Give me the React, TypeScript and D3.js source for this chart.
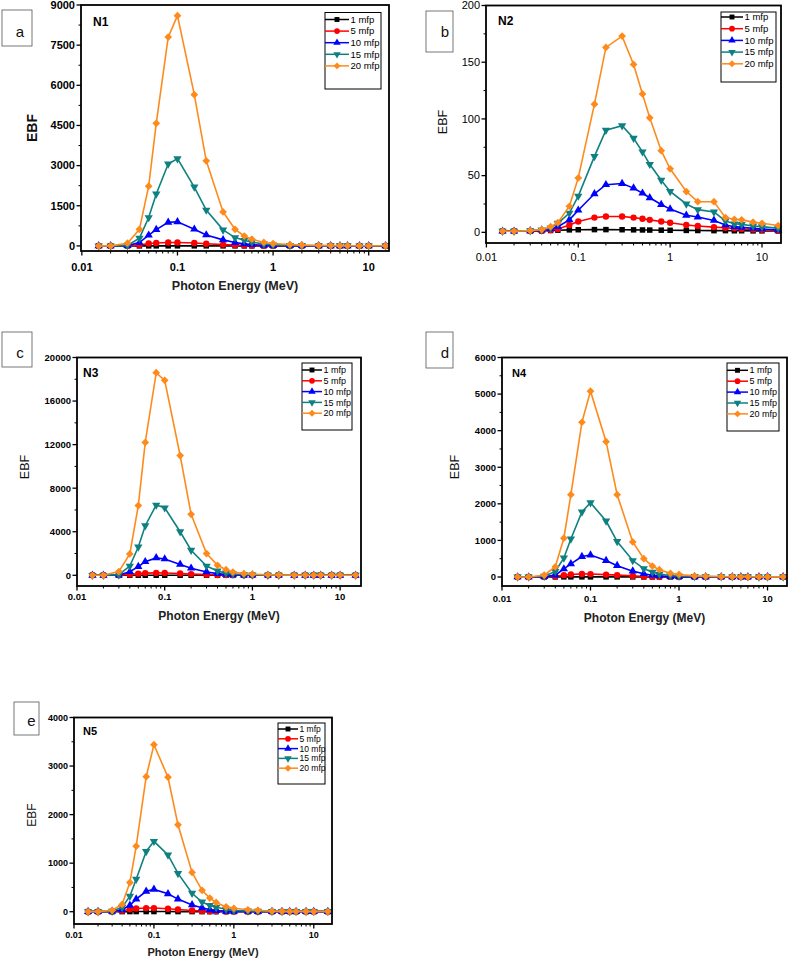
import React from 'react';
import * as d3 from 'd3';

// photon energies (MeV), shared by every panel
const energies = [0.015, 0.02, 0.03, 0.04, 0.05, 0.06, 0.08, 0.1, 0.15, 0.2, 0.3, 0.4, 0.5, 0.6, 0.8, 1, 1.5, 2, 3, 4, 5, 6, 8, 10, 15];

const seriesNames = ['1 mfp', '5 mfp', '10 mfp', '15 mfp', '20 mfp'];
const seriesColors = ['#000000', '#ff0000', '#0000ff', '#0f8080', '#ff8a1c'];
const seriesShapes = ['square', 'circle', 'up', 'down', 'diamond'];

const xTickValues = [0.01, 0.1, 1, 10];
const xTickLabels = ['0.01', '0.1', '1', '10'];

// N1
const n1Mfp1 = [1, 1, 1.2, 1.5, 2, 2.3, 2.6, 2.7, 2.6, 2.4, 2.1, 1.9, 1.8, 1.7, 1.6, 1.5, 1.4, 1.4, 1.3, 1.3, 1.3, 1.2, 1.2, 1.2, 1.2];
const n1Mfp5 = [1, 1, 5, 30, 90, 110, 130, 130, 110, 80, 50, 30, 20, 15, 10, 8, 6, 5, 4, 4, 3, 3, 3, 3, 2];
const n1Mfp10 = [1, 1, 10, 125, 400, 610, 880, 900, 625, 410, 225, 125, 75, 50, 25, 15, 10, 8, 6, 5, 5, 4, 4, 4, 3];
const n1Mfp15 = [1, 1, 20, 290, 1060, 1940, 3060, 3260, 2200, 1340, 600, 310, 210, 140, 75, 40, 20, 15, 10, 8, 7, 6, 5, 5, 4];
const n1Mfp20 = [1, 1, 100, 620, 2230, 4580, 7800, 8600, 5650, 3180, 1270, 620, 370, 250, 130, 90, 50, 30, 15, 10, 8, 7, 6, 5, 5];

// N2
const n2Mfp1 = [1.0, 1.0, 1.1, 1.3, 1.6, 1.9, 2.2, 2.3, 2.4, 2.4, 2.3, 2.2, 2.1, 2.0, 1.9, 1.8, 1.7, 1.6, 1.5, 1.5, 1.4, 1.4, 1.3, 1.3, 1.2];
const n2Mfp5 = [1.0, 1.0, 1.2, 1.5, 2.0, 3.0, 6.5, 9.5, 13, 14, 14, 13, 12, 11, 9.5, 8.5, 6.5, 5.6, 4.6, 4.0, 3.5, 3.0, 2.5, 2.2, 1.5];
const n2Mfp10 = [1.0, 1.0, 1.3, 2.0, 3.0, 5.0, 11, 19.5, 34, 42, 43, 39, 34.5, 30.5, 24.5, 20.5, 15, 13.5, 10.5, 6.5, 5, 4.5, 3.5, 3, 2];
const n2Mfp15 = [1.0, 1.0, 1.4, 2.2, 4.0, 8.0, 17, 32, 67, 90, 94, 83, 71, 60, 46, 36, 25, 20, 18, 10, 7.5, 7, 5.6, 5, 3.5];
const n2Mfp20 = [1.0, 1.0, 1.5, 2.5, 5.0, 8.5, 23, 48, 113, 163, 173, 148, 122, 101, 72, 56, 36, 27, 27, 13, 11.5, 11, 9, 8, 6];

// N3
const n3Mfp1 = [1, 1, 2, 3, 4, 5, 5, 5, 4, 4, 3, 3, 2, 2, 2, 2, 2, 1, 1, 1, 1, 1, 1, 1, 1];
const n3Mfp5 = [1, 1, 10, 80, 150, 200, 220, 210, 160, 110, 60, 30, 20, 15, 10, 8, 6, 5, 4, 3, 3, 3, 2, 2, 2];
const n3Mfp10 = [1, 1, 20, 330, 800, 1250, 1600, 1500, 1000, 650, 310, 150, 80, 50, 20, 15, 10, 8, 6, 5, 4, 4, 3, 3, 3];
const n3Mfp15 = [1, 1, 60, 850, 2600, 4550, 6450, 6200, 4000, 2300, 850, 400, 200, 120, 60, 30, 20, 15, 10, 8, 7, 6, 5, 5, 4];
const n3Mfp20 = [1, 1, 340, 1960, 6400, 12200, 18600, 17900, 11000, 5600, 2000, 920, 520, 300, 150, 100, 50, 30, 15, 10, 8, 7, 6, 5, 5];

// N4
const n4Mfp1 = [1, 1, 1.5, 2, 3, 3, 3.5, 3.5, 3, 3, 2.5, 2, 2, 2, 1.5, 1.5, 1.5, 1.3, 1.3, 1.2, 1.2, 1.2, 1.2, 1.2, 1.1];
const n4Mfp5 = [1, 1, 5, 20, 50, 70, 85, 80, 65, 50, 30, 15, 10, 8, 6, 5, 4, 3, 3, 3, 2, 2, 2, 2, 2];
const n4Mfp10 = [1, 1, 10, 50, 220, 360, 560, 600, 450, 310, 160, 90, 50, 30, 10, 8, 6, 5, 4, 4, 3, 3, 3, 3, 3];
const n4Mfp15 = [1, 1, 20, 150, 520, 1040, 1780, 2030, 1530, 970, 450, 230, 130, 80, 40, 20, 15, 10, 8, 6, 5, 5, 4, 4, 4];
const n4Mfp20 = [1, 1, 50, 280, 1060, 2250, 4230, 5080, 3700, 2250, 960, 500, 300, 200, 100, 70, 30, 20, 10, 8, 6, 5, 5, 4, 4];

// N5
const n5Mfp1 = [1, 1, 1.5, 2, 2.5, 3, 3, 3, 3, 2.5, 2.2, 2, 1.8, 1.7, 1.6, 1.5, 1.4, 1.3, 1.3, 1.2, 1.2, 1.2, 1.1, 1.1, 1.1];
const n5Mfp5 = [1, 1, 5, 20, 50, 65, 75, 75, 60, 45, 25, 15, 10, 8, 5, 4, 3, 3, 2, 2, 2, 2, 2, 2, 2];
const n5Mfp10 = [1, 1, 10, 40, 130, 260, 420, 460, 370, 260, 140, 80, 40, 25, 10, 8, 6, 5, 4, 4, 3, 3, 3, 3, 3];
const n5Mfp15 = [1, 1, 10, 90, 320, 670, 1240, 1450, 1170, 790, 380, 200, 130, 90, 50, 25, 15, 10, 8, 6, 5, 5, 4, 4, 4];
const n5Mfp20 = [1, 1, 30, 150, 600, 1350, 2780, 3440, 2770, 1790, 810, 440, 280, 190, 100, 70, 40, 30, 10, 8, 6, 5, 5, 4, 4];

const FONT = "'Liberation Sans', Arial, sans-serif";

interface PanelCfg {
  letter: string;
  letterBox: [number, number, number, number];
  letterPos: [number, number];
  name: string;
  namePos: [number, number];
  nameSize: number;
  series: number[][];
  left: number; top: number; right: number; bottom: number;
  xDomain: [number, number];
  yDomain: [number, number];
  yStep: number;
  tickBold: boolean;
  tickSize: number;
  xLabelY: number;
  title: boolean;
  titleY: number;
  titleSize: number;
  ebfX: number; ebfY: number; ebfBold: boolean; ebfSize: number;
  legend: { x0: number; y0: number; x1: number; y1: number; rowY: number; step: number; lineLen: number; font: number };
}

const panels: PanelCfg[] = [
  {
    letter: 'a', letterBox: [2, 10, 30, 36], letterPos: [20, 37],
    name: 'N1', namePos: [93, 26], nameSize: 12,
    series: [n1Mfp1, n1Mfp5, n1Mfp10, n1Mfp15, n1Mfp20],
    left: 81, top: 5, right: 389, bottom: 251,
    xDomain: [0.0098, 16.3], yDomain: [-190, 9000], yStep: 1500,
    tickBold: true, tickSize: 11, xLabelY: 270.5,
    title: true, titleY: 289.5, titleSize: 12.5,
    ebfX: 32, ebfY: 128, ebfBold: true, ebfSize: 14,
    legend: { x0: 325, y0: 12.5, x1: 381, y1: 89, rowY: 19.5, step: 11.6, lineLen: 24, font: 9.5 },
  },
  {
    letter: 'b', letterBox: [426, 11, 27, 41], letterPos: [445, 37],
    name: 'N2', namePos: [498, 25], nameSize: 12,
    series: [n2Mfp1, n2Mfp5, n2Mfp10, n2Mfp15, n2Mfp20],
    left: 486, top: 5.5, right: 781, bottom: 243,
    xDomain: [0.0099, 16.1], yDomain: [-9.4, 200], yStep: 50,
    tickBold: false, tickSize: 11, xLabelY: 261,
    title: false, titleY: 0, titleSize: 12,
    ebfX: 443, ebfY: 122, ebfBold: false, ebfSize: 12.5,
    legend: { x0: 721, y0: 12, x1: 776, y1: 82, rowY: 17, step: 11.7, lineLen: 22, font: 9.5 },
  },
  {
    letter: 'c', letterBox: [2, 332, 30, 35], letterPos: [20, 358],
    name: 'N3', namePos: [83, 377], nameSize: 12,
    series: [n3Mfp1, n3Mfp5, n3Mfp10, n3Mfp15, n3Mfp20],
    left: 77, top: 357.5, right: 361, bottom: 586,
    xDomain: [0.01, 17.3], yDomain: [-983, 20000], yStep: 4000,
    tickBold: true, tickSize: 9.5, xLabelY: 600,
    title: true, titleY: 620, titleSize: 12,
    ebfX: 25, ebfY: 467, ebfBold: false, ebfSize: 12.5,
    legend: { x0: 302, y0: 363, x1: 352, y1: 430, rowY: 370, step: 10.8, lineLen: 20, font: 9 },
  },
  {
    letter: 'd', letterBox: [426, 332, 27, 36], letterPos: [445, 358],
    name: 'N4', namePos: [512, 377], nameSize: 11,
    series: [n4Mfp1, n4Mfp5, n4Mfp10, n4Mfp15, n4Mfp20],
    left: 502, top: 357.5, right: 787, bottom: 586,
    xDomain: [0.01, 16.6], yDomain: [-246, 6000], yStep: 1000,
    tickBold: true, tickSize: 9.5, xLabelY: 601.5,
    title: true, titleY: 621.5, titleSize: 12,
    ebfX: 455, ebfY: 467, ebfBold: false, ebfSize: 12.5,
    legend: { x0: 727, y0: 363, x1: 779, y1: 431, rowY: 370.3, step: 10.9, lineLen: 21, font: 9 },
  },
  {
    letter: 'e', letterBox: [14, 702, 25, 33], letterPos: [31.5, 726],
    name: 'N5', namePos: [83, 735], nameSize: 11,
    series: [n5Mfp1, n5Mfp5, n5Mfp10, n5Mfp15, n5Mfp20],
    left: 74, top: 717.5, right: 332, bottom: 924,
    xDomain: [0.01, 16.9], yDomain: [-253, 4000], yStep: 1000,
    tickBold: true, tickSize: 9, xLabelY: 938,
    title: true, titleY: 956, titleSize: 11,
    ebfX: 32, ebfY: 815, ebfBold: false, ebfSize: 12,
    legend: { x0: 278, y0: 723, x1: 325, y1: 784, rowY: 729, step: 9.8, lineLen: 20, font: 8.5 },
  },
];

const Marker: React.FC<{ shape: string; x: number; y: number; color: string; scale?: number }> = ({ shape, x, y, color, scale = 1 }) => {
  let d: string;
  let rot = 0;
  if (shape === 'square') d = d3.symbol(d3.symbolSquare, 30 * scale)()!;
  else if (shape === 'circle') d = d3.symbol(d3.symbolCircle, 32 * scale)()!;
  else if (shape === 'up') d = d3.symbol(d3.symbolTriangle, 30 * scale)()!;
  else if (shape === 'down') { d = d3.symbol(d3.symbolTriangle, 30 * scale)()!; rot = 180; }
  else { d = d3.symbol(d3.symbolSquare, 30 * scale)()!; rot = 45; }
  return <path d={d} transform={`translate(${x},${y}) rotate(${rot})`} fill={color} />;
};

const Panel: React.FC<{ cfg: PanelCfg }> = ({ cfg }) => {
  const x = d3.scaleLog().domain(cfg.xDomain).range([cfg.left, cfg.right]);
  const y = d3.scaleLinear().domain(cfg.yDomain).range([cfg.bottom, cfg.top]);
  const line = d3.line<number>().x((_, i) => x(energies[i])).y((v) => y(v));

  const yTicks = d3.range(0, cfg.yDomain[1] + 1e-9, cfg.yStep);
  const yMinor = d3.range(cfg.yStep / 2, cfg.yDomain[1], cfg.yStep);
  const xMinor: number[] = [];
  [0.01, 0.1, 1, 10].forEach((dec) => {
    for (let k = 2; k <= 9; k++) {
      const v = dec * k;
      if (v > cfg.xDomain[0] && v < cfg.xDomain[1]) xMinor.push(v);
    }
  });
  const tickWeight = cfg.tickBold ? 'bold' : 'normal';
  const lg = cfg.legend;

  return (
    <g fontFamily={FONT}>
      {/* panel letter */}
      <rect x={cfg.letterBox[0]} y={cfg.letterBox[1]} width={cfg.letterBox[2]} height={cfg.letterBox[3]}
        fill="none" stroke="#555" strokeWidth={0.8} />
      <text x={cfg.letterPos[0]} y={cfg.letterPos[1]} fontSize={15} textAnchor="middle" fill="#111">{cfg.letter}</text>

      {/* series */}
      {cfg.series.map((vals, si) => (
        <g key={si}>
          <path d={line(vals)!} fill="none" stroke={seriesColors[si]} strokeWidth={1.6} />
          {vals.map((v, i) => (
            <Marker key={i} shape={seriesShapes[si]} x={x(energies[i])} y={y(v)} color={seriesColors[si]} />
          ))}
        </g>
      ))}

      {/* frame */}
      <rect x={cfg.left} y={cfg.top} width={cfg.right - cfg.left} height={cfg.bottom - cfg.top}
        fill="none" stroke="#000" strokeWidth={1.8} />

      {/* y axis */}
      {yTicks.map((t) => (
        <g key={t}>
          <line x1={cfg.left - 4.5} x2={cfg.left} y1={y(t)} y2={y(t)} stroke="#000" strokeWidth={1.3} />
          <text x={cfg.left - 6} y={y(t)} dy="0.35em" textAnchor="end" fontSize={cfg.tickSize} fontWeight={tickWeight}>{t}</text>
        </g>
      ))}
      {yMinor.map((t) => (
        <line key={t} x1={cfg.left - 2.5} x2={cfg.left} y1={y(t)} y2={y(t)} stroke="#000" strokeWidth={1} />
      ))}

      {/* x axis */}
      {xTickValues.map((t, i) => (
        <g key={t}>
          <line x1={x(t)} x2={x(t)} y1={cfg.bottom} y2={cfg.bottom + 4.5} stroke="#000" strokeWidth={1.3} />
          <text x={x(t)} y={cfg.xLabelY} textAnchor="middle" fontSize={cfg.tickSize} fontWeight={tickWeight}>{xTickLabels[i]}</text>
        </g>
      ))}
      {xMinor.map((t) => (
        <line key={t} x1={x(t)} x2={x(t)} y1={cfg.bottom} y2={cfg.bottom + 2.5} stroke="#000" strokeWidth={1} />
      ))}

      {cfg.title && (
        <text x={(cfg.left + cfg.right) / 2} y={cfg.titleY} textAnchor="middle" fontSize={cfg.titleSize}
          fontWeight="bold" fill="#222">Photon Energy (MeV)</text>
      )}
      <text transform={`translate(${cfg.ebfX},${cfg.ebfY}) rotate(-90)`} textAnchor="middle" dy="0.35em"
        fontSize={cfg.ebfSize} fontWeight={cfg.ebfBold ? 'bold' : 'normal'} fill="#111">EBF</text>

      <text x={cfg.namePos[0]} y={cfg.namePos[1]} fontSize={cfg.nameSize} fontWeight="bold">{cfg.name}</text>

      {/* legend */}
      <rect x={lg.x0} y={lg.y0} width={lg.x1 - lg.x0} height={lg.y1 - lg.y0} fill="#fff" stroke="#000" strokeWidth={1} />
      {seriesNames.map((nm, si) => {
        const ry = lg.rowY + si * lg.step;
        return (
          <g key={nm}>
            <line x1={lg.x0} x2={lg.x0 + lg.lineLen} y1={ry} y2={ry} stroke={seriesColors[si]} strokeWidth={1.5} />
            <Marker shape={seriesShapes[si]} x={lg.x0 + lg.lineLen / 2} y={ry} color={seriesColors[si]} scale={0.8} />
            <text x={lg.x0 + lg.lineLen + 1.5} y={ry} dy="0.35em" fontSize={lg.font}>{nm}</text>
          </g>
        );
      })}
    </g>
  );
};

const App: React.FC = () => (
  <svg width={789} height={959} style={{ position: 'absolute', left: 0, top: 0, background: '#fff' }}>
    <rect width={789} height={959} fill="#fff" />
    {panels.map((p) => <Panel key={p.name} cfg={p} />)}
  </svg>
);

export default App;
